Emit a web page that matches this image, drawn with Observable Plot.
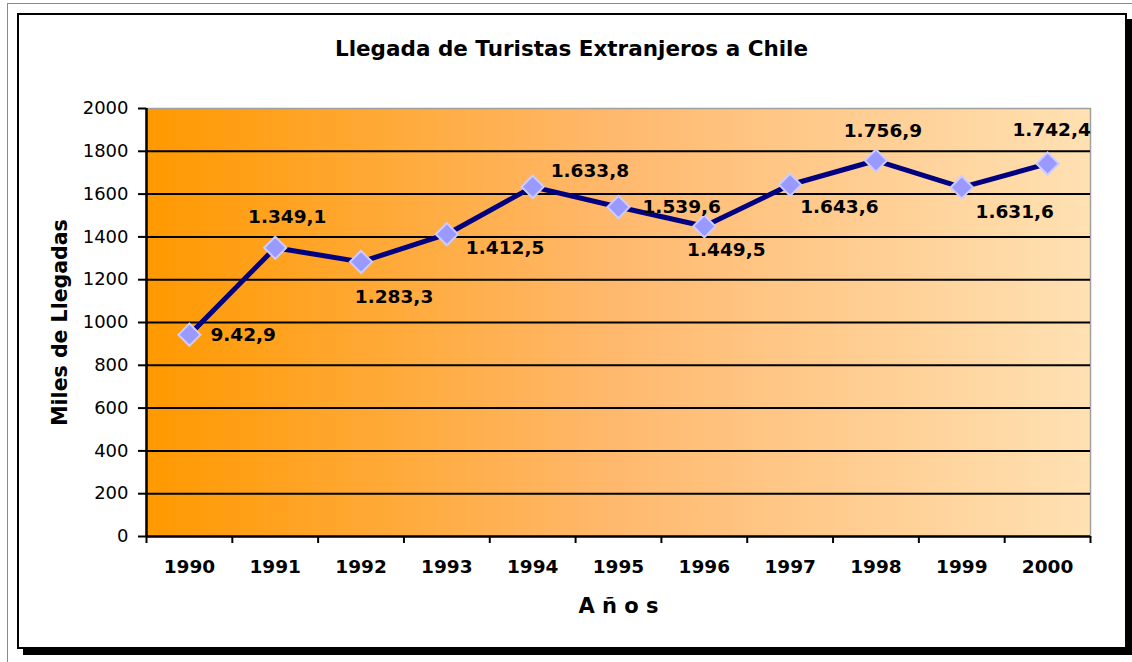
<!DOCTYPE html>
<html>
<head>
<meta charset="utf-8">
<script src="https://cdn.jsdelivr.net/npm/d3@7"></script>
<script src="https://cdn.jsdelivr.net/npm/@observablehq/plot@0.6"></script>
<style>
  html, body { margin: 0; padding: 0; background: #fff; }
  #wrap { position: relative; width: 1132px; height: 662px; overflow: hidden; }
  #outer { position: absolute; left: 7px; top: 3px; width: 1140px; height: 680px; border: 1px solid #8a8a8a; box-sizing: border-box; }
  #inner { position: absolute; left: 17px; top: 13px; width: 1110px; height: 636px; border: 2px solid #000; box-sizing: border-box; box-shadow: 6px 6px 0 #000; background: #fff; }
  #chart { position: absolute; left: 0; top: 0; }
</style>
</head>
<body>
<div id="wrap">
  <div id="outer"></div>
  <div id="inner"></div>
  <div id="chart"></div>
</div>
<script>
// ---- data ----
const years = [1990, 1991, 1992, 1993, 1994, 1995, 1996, 1997, 1998, 1999, 2000];
const arrivals = [942.9, 1349.1, 1283.3, 1412.5, 1633.8, 1539.6, 1449.5, 1643.6, 1756.9, 1631.6, 1742.4];
const labels = ["9.42,9", "1.349,1", "1.283,3", "1.412,5", "1.633,8", "1.539,6", "1.449,5", "1.643,6", "1.756,9", "1.631,6", "1.742,4"];
const yTicks = [0, 200, 400, 600, 800, 1000, 1200, 1400, 1600, 1800, 2000];
const title = "Llegada de Turistas Extranjeros a Chile";
const yTitle = "Miles de Llegadas";
const xTitle = "A ñ o s";

// label placement (style): [anchor, dx, dy]
const labelPlacement = [
  ["start", 21, 0], ["middle", 12, -31], ["middle", 33, 35], ["start", 19, 14],
  ["start", 18, -16], ["start", 24, 0], ["middle", 22, 24], ["start", 10, 22],
  ["middle", 7, -29], ["middle", 53, 25], ["middle", 4, -34]
];

const rows = years.map((y, i) => ({year: y, value: arrivals[i], label: labels[i], place: labelPlacement[i]}));
const boundaries = [...years.map(y => y - 0.5), years[years.length - 1] + 0.5];

const FONT = "'DejaVu Sans', Verdana, sans-serif";

const labelMarks = rows.map(r =>
  Plot.text([r], {x: "year", y: "value", text: "label", textAnchor: r.place[0],
    dx: r.place[1], dy: r.place[2], fontWeight: "bold", fontSize: 18.5, fill: "#000"})
);

const chart = Plot.plot({
  width: 1132,
  height: 662,
  marginLeft: 146,
  marginRight: 42,
  marginTop: 108,
  marginBottom: 126,
  style: {fontFamily: FONT, background: "transparent", overflow: "visible"},
  x: {domain: [boundaries[0], boundaries[boundaries.length - 1]]},
  y: {domain: [0, 2000]},
  marks: [
    Plot.frame({fill: "url(#bg)", stroke: "#a0a0a0", strokeWidth: 1.5}),
    Plot.gridY(yTicks.filter(t => t > 0 && t < 2000), {stroke: "#000", strokeOpacity: 1, strokeWidth: 2}),
    Plot.axisY({ticks: yTicks, tickSize: 8, tickPadding: 10, fontSize: 18, stroke: "#000", strokeWidth: 2, fill: "#000", label: null, tickFormat: d => String(d)}),
    Plot.axisX({ticks: years, tickSize: 0, tickPadding: 23, fontSize: 18.5, fontWeight: "bold", fill: "#000", label: null, tickFormat: d => String(d)}),
    Plot.axisX({ticks: boundaries, tickSize: 7, stroke: "#000", strokeWidth: 2, label: null, tickFormat: () => ""}),
    Plot.ruleX([boundaries[0]], {stroke: "#000", strokeWidth: 2.5}),
    Plot.ruleY([0], {stroke: "#000", strokeWidth: 2.5}),
    Plot.line(rows, {x: "year", y: "value", stroke: "#000080", strokeWidth: 5, strokeLinejoin: "round"}),
    Plot.dot(rows, {x: "year", y: "value", symbol: "diamond2", r: 10, fill: "#9999FF", stroke: "#CCCCFF", strokeWidth: 2}),
    ...labelMarks,
    Plot.text([title], {frameAnchor: "top", dx: -47, dy: -68, fontSize: 21.5, fontWeight: "bold", fill: "#000"}),
    Plot.text([yTitle], {frameAnchor: "left", textAnchor: "middle", dx: -86, rotate: -90, fontSize: 20.5, fontWeight: "bold", fill: "#000"}),
    Plot.text([xTitle], {frameAnchor: "bottom", dy: 76, fontSize: 21, fontWeight: "bold", fill: "#000"})
  ]
});

const svg = d3.select(chart);
const defs = svg.insert("defs", ":first-child");
const grad = defs.append("linearGradient").attr("id", "bg").attr("x1", "0%").attr("x2", "100%").attr("y1", "0%").attr("y2", "0%");
grad.append("stop").attr("offset", "0%").attr("stop-color", "#FF9900");
grad.append("stop").attr("offset", "50%").attr("stop-color", "#FFB96E");
grad.append("stop").attr("offset", "100%").attr("stop-color", "#FFE1B3");

document.getElementById("chart").appendChild(chart);
</script>
</body>
</html>
